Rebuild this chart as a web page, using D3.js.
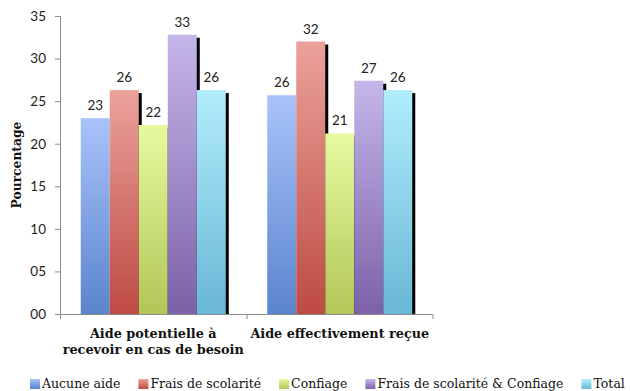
<!DOCTYPE html>
<html><head><meta charset="utf-8">
<script src="https://cdn.jsdelivr.net/npm/d3@7"></script>
<style>body{margin:0;background:#fff}svg{display:block}</style>
</head><body>
<svg id="c" width="630" height="391"></svg>
<script>
const categories = [["Aide potentielle à","recevoir en cas de besoin"],["Aide effectivement reçue"]];
const categoryKeys = ["g1","g2"];
const series = ["Aucune aide","Frais de scolarité","Confiage","Frais de scolarité & Confiage","Total"];
const valuesG1 = [23.0, 26.3, 22.2, 32.8, 26.3];
const valuesG2 = [25.7, 32.0, 21.2, 27.4, 26.3];
const yTicks = [0,5,10,15,20,25,30,35];
const colorsTop = ["#a9c3fa","#eba29b","#e5fa9f","#c5b6ea","#b1edfc"];
const colorsBottom = ["#5a84cd","#bd4b43","#b2c658","#7c61a8","#69b7d6"];

const svg = d3.select("#c");
const defs = svg.append("defs");
series.forEach((s,i)=>{
  const g = defs.append("linearGradient").attr("id","grad"+i).attr("x1",0).attr("y1",0).attr("x2",0).attr("y2",1);
  g.append("stop").attr("offset","0%").attr("stop-color",colorsTop[i]);
  g.append("stop").attr("offset","100%").attr("stop-color",colorsBottom[i]);
});
const L=60, R=433, T=16, B=314;
defs.append("clipPath").attr("id","plotclip").append("rect").attr("x",L).attr("y",0).attr("width",R-L+10).attr("height",B+1);

const y = d3.scaleLinear().domain([0,35]).range([B,T]);
const x0 = d3.scaleBand().domain(categoryKeys).range([L,R]).padding(0);
const x1 = d3.scaleBand().domain(series).range([0,x0.bandwidth()]).paddingInner(0).paddingOuter(0.715);

const data = [valuesG1, valuesG2];

// y axis
const yAxis = svg.append("g").attr("transform",`translate(${L},0)`)
  .call(d3.axisLeft(y).tickValues(yTicks).tickFormat(d3.format("02d")).tickSize(5).tickPadding(9));
yAxis.select(".domain").attr("stroke","#8c8c8c").attr("d",`M-5,${T}.5H0.5V${B}`);
yAxis.selectAll(".tick line").attr("stroke","#8c8c8c");
yAxis.selectAll(".tick text").attr("font-family","Lato, 'Open Sans', sans-serif").attr("font-size","13.5px").attr("fill","#222");

// bars
const groups = svg.append("g").selectAll("g").data(data).join("g")
  .attr("transform",(d,i)=>`translate(${x0(categoryKeys[i])},0)`);
groups.each(function(vals){
  const g = d3.select(this);
  vals.forEach((v,i)=>{
    const bx = x1(series[i]), bw = x1.bandwidth();
    g.append("rect").attr("clip-path","url(#plotclip)")
      .attr("x",bx+3).attr("y",y(v)+3).attr("width",bw).attr("height",B-y(v)).attr("fill","#000");
    g.append("rect").attr("x",bx).attr("y",y(v)).attr("width",bw).attr("height",B-y(v)).attr("fill",`url(#grad${i})`);
  });
  vals.forEach((v,i)=>{
    g.append("text").attr("x",x1(series[i])+x1.bandwidth()/2).attr("y",y(v)-8)
      .attr("text-anchor","middle").attr("font-family","Lato, 'Open Sans', sans-serif").attr("font-size","13.5px").attr("fill","#222")
      .text(d3.format(".0f")(v));
  });
});

// x axis
const xAxis = svg.append("g").attr("transform",`translate(0,${B})`);
xAxis.append("path").attr("d",`M${L},0.5H${R}V5`).attr("stroke","#8c8c8c").attr("fill","none");
[L, x0("g2")].forEach(px=>xAxis.append("line").attr("x1",px+0.5).attr("x2",px+0.5).attr("y1",0).attr("y2",5).attr("stroke","#8c8c8c"));
categories.forEach((lines,i)=>{
  const cx = x0(categoryKeys[i]) + x0.bandwidth()/2;
  const t = svg.append("text").attr("text-anchor","middle").attr("font-family","'DejaVu Serif', serif")
    .attr("font-weight","bold").attr("font-size","12.8px").attr("fill","#111");
  lines.forEach((ln,j)=>t.append("tspan").attr("x",cx).attr("y",338+j*16).text(ln));
});

// y title
svg.append("text").attr("transform",`translate(21,165) rotate(-90)`).attr("text-anchor","middle")
  .attr("font-family","'DejaVu Serif', serif").attr("font-weight","bold").attr("font-size","12.3px").attr("fill","#111")
  .text("Pourcentage");

// legend
const leg = svg.append("g");
let lx = 30;
series.forEach((s,i)=>{
  leg.append("rect").attr("x",lx).attr("y",379).attr("width",10).attr("height",10).attr("fill",`url(#grad${i})`);
  const t = leg.append("text").attr("x",lx+12).attr("y",388).attr("font-family","'DejaVu Serif', serif")
    .attr("font-size","12.5px").attr("fill","#111").text(s);
  lx += 12 + t.node().getComputedTextLength() + 18;
});
</script>
</body></html>
